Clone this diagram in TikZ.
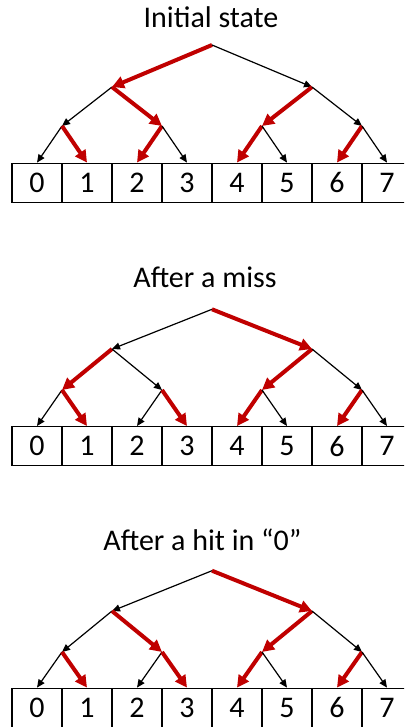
\documentclass[tikz,border=0pt]{standalone}
\usepackage{fontspec}
\setmainfont{Carlito}
\usetikzlibrary{arrows.meta}
\definecolor{myred}{RGB}{192,0,0}

\tikzset{
  blkarr/.style={-{Triangle[length=8pt,width=7pt]}, line width=1.2pt, black},
  redarr/.style={-{Triangle[length=12pt,width=12pt]}, line width=4pt, myred},
  cell/.style={draw, line width=1.4pt, minimum width=50pt, minimum height=39pt, inner sep=0pt, font=\fontsize{30}{36}\selectfont},
  title/.style={anchor=base, font=\fontsize{30}{36}\selectfont}
}

\begin{document}
\begin{tikzpicture}[x=1pt,y=-1pt]
  \clip (0,0) rectangle (404,727);

  % initial state
  \node[title] (t1) at (211,27.3) {Initial state};
  \coordinate (r1) at (212,45);
  \coordinate (a1) at (112,87);
  \coordinate (b1) at (312,87);
  \coordinate (aa1) at (62,126);
  \coordinate (ab1) at (162,126);
  \coordinate (ba1) at (262,126);
  \coordinate (bb1) at (362,126);
  \foreach \i in {0,...,7}
    \node[cell] (p1c\i) at ({37+50*\i},182.8) {\i};
  \draw[redarr] (r1) -- (a1);
  \draw[blkarr] (r1) -- (b1);
  \draw[blkarr] (a1) -- (aa1);
  \draw[redarr] (a1) -- (ab1);
  \draw[redarr] (b1) -- (ba1);
  \draw[blkarr] (b1) -- (bb1);
  \draw[blkarr] (aa1) -- (p1c0.north);
  \draw[redarr] (aa1) -- (p1c1.north);
  \draw[redarr] (ab1) -- (p1c2.north);
  \draw[blkarr] (ab1) -- (p1c3.north);
  \draw[redarr] (ba1) -- (p1c4.north);
  \draw[blkarr] (ba1) -- (p1c5.north);
  \draw[redarr] (bb1) -- (p1c6.north);
  \draw[blkarr] (bb1) -- (p1c7.north);

  % after a miss
  \node[title] (t2) at (205,287.3) {After a miss};
  \coordinate (r2) at (212,309.3);
  \coordinate (a2) at (112,349);
  \coordinate (b2) at (312,349);
  \coordinate (aa2) at (62,390);
  \coordinate (ab2) at (162,390);
  \coordinate (ba2) at (262,390);
  \coordinate (bb2) at (362,390);
  \foreach \i in {0,...,7}
    \node[cell] (p2c\i) at ({37+50*\i},446.2) {\i};
  \draw[blkarr] (r2) -- (a2);
  \draw[redarr] (r2) -- (b2);
  \draw[redarr] (a2) -- (aa2);
  \draw[blkarr] (a2) -- (ab2);
  \draw[redarr] (b2) -- (ba2);
  \draw[blkarr] (b2) -- (bb2);
  \draw[blkarr] (aa2) -- (p2c0.north);
  \draw[redarr] (aa2) -- (p2c1.north);
  \draw[blkarr] (ab2) -- (p2c2.north);
  \draw[redarr] (ab2) -- (p2c3.north);
  \draw[redarr] (ba2) -- (p2c4.north);
  \draw[blkarr] (ba2) -- (p2c5.north);
  \draw[redarr] (bb2) -- (p2c6.north);
  \draw[blkarr] (bb2) -- (p2c7.north);

  % after a hit in 0
  \node[title] (t3) at (202.5,550) {After a hit in ``0''};
  \coordinate (r3) at (212,570.7);
  \coordinate (a3) at (112,611);
  \coordinate (b3) at (312,611);
  \coordinate (aa3) at (62,652);
  \coordinate (ab3) at (162,652);
  \coordinate (ba3) at (262,652);
  \coordinate (bb3) at (362,652);
  \foreach \i in {0,...,7}
    \node[cell] (p3c\i) at ({37+50*\i},707.8) {\i};
  \draw[blkarr] (r3) -- (a3);
  \draw[redarr] (r3) -- (b3);
  \draw[blkarr] (a3) -- (aa3);
  \draw[redarr] (a3) -- (ab3);
  \draw[redarr] (b3) -- (ba3);
  \draw[blkarr] (b3) -- (bb3);
  \draw[blkarr] (aa3) -- (p3c0.north);
  \draw[redarr] (aa3) -- (p3c1.north);
  \draw[blkarr] (ab3) -- (p3c2.north);
  \draw[redarr] (ab3) -- (p3c3.north);
  \draw[redarr] (ba3) -- (p3c4.north);
  \draw[blkarr] (ba3) -- (p3c5.north);
  \draw[redarr] (bb3) -- (p3c6.north);
  \draw[blkarr] (bb3) -- (p3c7.north);
\end{tikzpicture}
\end{document}
